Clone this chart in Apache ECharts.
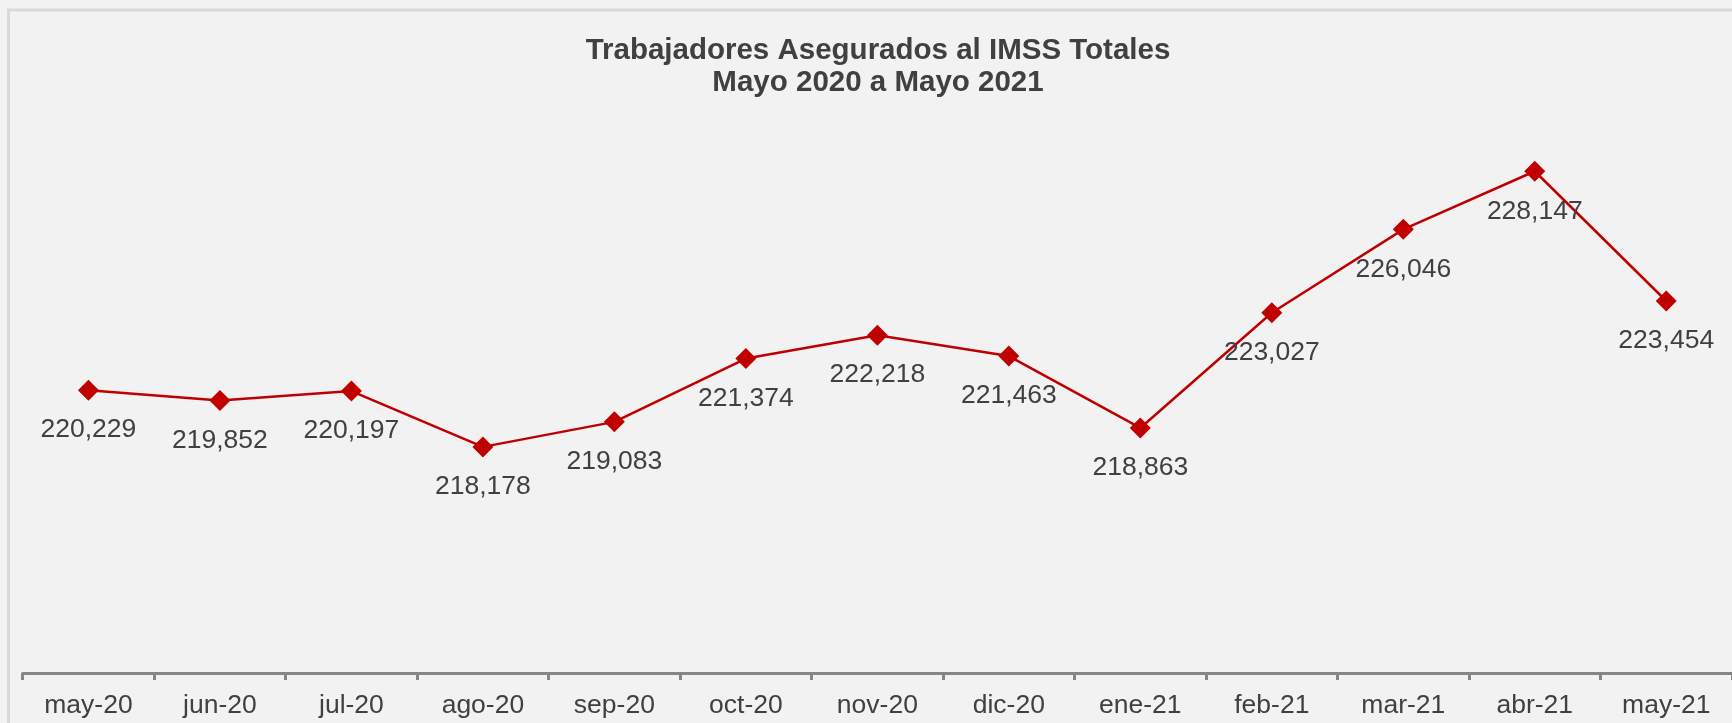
<!DOCTYPE html>
<html>
<head>
<meta charset="utf-8">
<script src="https://cdn.jsdelivr.net/npm/echarts@6/dist/echarts.min.js"></script>
<style>
  html, body { margin: 0; padding: 0; background: #f2f2f2; }
  #chart { width: 1732px; height: 723px; }
</style>
</head>
<body>
<div id="chart"></div>
<script>
// Monthly totals
const months = ['may-20', 'jun-20', 'jul-20', 'ago-20', 'sep-20', 'oct-20', 'nov-20',
  'dic-20', 'ene-21', 'feb-21', 'mar-21', 'abr-21', 'may-21'];
const insured = [220229, 219852, 220197, 218178, 219083, 221374, 222218,
  221463, 218863, 223027, 226046, 228147, 223454];
const titleLines = ['Trabajadores Asegurados al IMSS Totales', 'Mayo 2020 a Mayo 2021'];

const FONT = '"Liberation Sans", Arial, sans-serif';
const chart = echarts.init(document.getElementById('chart'));

chart.setOption({
  backgroundColor: '#f2f2f2',
  animation: false,
  // frame of the original chart area; right and bottom edges are cropped off
  graphic: [{
    type: 'rect',
    shape: { x: 8.5, y: 10, width: 1800, height: 800 },
    style: { fill: 'none', stroke: '#d9d9d9', lineWidth: 3 },
    silent: true
  }],
  title: {
    text: titleLines.join('\n'),
    left: 878,
    top: 35,
    padding: 0,
    textAlign: 'center',
    textStyle: {
      fontFamily: FONT,
      fontSize: 29.5,
      fontWeight: 'bold',
      color: '#404040',
      lineHeight: 32
    }
  },
  grid: { left: 22.7, right: -5, top: 120, bottom: 50, containLabel: false },
  xAxis: {
    type: 'category',
    data: months,
    boundaryGap: true,
    axisLine: { lineStyle: { color: '#868686', width: 3 } },
    axisTick: { show: true, length: 7, lineStyle: { color: '#868686', width: 3 } },
    axisLabel: { fontFamily: FONT, fontSize: 26.5, color: '#404040', margin: 19, interval: 0 }
  },
  yAxis: {
    type: 'value',
    min: 210000,
    max: 230000,
    show: false,
    splitLine: { show: false }
  },
  series: [{
    type: 'line',
    data: insured,
    symbol: 'diamond',
    symbolSize: 21,
    itemStyle: { color: '#c00000' },
    lineStyle: { color: '#c00000', width: 2.5 },
    label: {
      show: true,
      position: 'bottom',
      distance: 16,
      fontFamily: FONT,
      fontSize: 26.5,
      color: '#404040',
      formatter: p => p.value.toLocaleString('en-US')
    }
  }]
});
</script>
</body>
</html>
